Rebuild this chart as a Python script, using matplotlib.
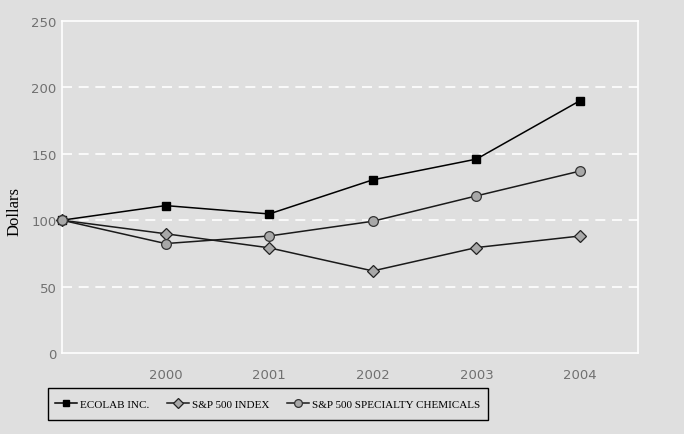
import matplotlib
matplotlib.use("Agg")
import matplotlib.pyplot as plt
from matplotlib.patches import Rectangle

years = [1999, 2000, 2001, 2002, 2003, 2004]
ecolab = [100, 111, 104.7, 130.4, 146, 190]
sp500 = [100, 89.8, 79.2, 61.8, 79.4, 88.1]
spec_chem = [100, 82.4, 88.1, 99.2, 118.3, 137]
xtick_labels = ["2000", "2001", "2002", "2003", "2004"]
yticks = [0, 50, 100, 150, 200, 250]

BG = "#dfdfdf"
fig = plt.figure(figsize=(6.84, 4.35), dpi=100, facecolor=BG)
ax = fig.add_axes([62/684, 81/435, 576/684, 332/435])
ax.set_facecolor(BG)

ax.plot(years, ecolab, color="black", lw=1.1, marker="s", ms=6,
        mfc="black", mec="black", clip_on=False, zorder=5, label="ECOLAB INC.")
ax.plot(years, sp500, color="#1a1a1a", lw=1.1, marker="D", ms=6,
        mfc="#a8a8a8", mec="#222222", mew=0.9, clip_on=False, zorder=5, label="S&P 500 INDEX")
ax.plot(years, spec_chem, color="#1a1a1a", lw=1.1, marker="o", ms=7,
        mfc="#a8a8a8", mec="#333333", mew=0.9, clip_on=False, zorder=5,
        label="S&P 500 SPECIALTY CHEMICALS")

ax.set_xlim(1999, 2004.56)
ax.set_ylim(0, 250)
ax.set_yticks(yticks)
ax.set_yticklabels([str(v) for v in yticks])
ax.set_xticks(years[1:])
ax.set_xticklabels(xtick_labels)

for v in [50, 100, 150, 200]:
    ax.axhline(v, color="white", lw=1.2, dashes=(6, 4), zorder=1)
for side in ["left", "right", "top", "bottom"]:
    ax.spines[side].set_color("white")
    ax.spines[side].set_linewidth(1.2)

ax.tick_params(axis="both", length=0, labelsize=9.5, labelcolor="#707070",
               labelfontfamily="DejaVu Sans")
ax.tick_params(axis="y", pad=4)
ax.tick_params(axis="x", pad=11)

ax.set_ylabel("Dollars", fontsize=12, family="Liberation Serif", color="black")
ax.yaxis.set_label_coords(-0.068, 0.428)

leg = fig.legend(loc="center left", bbox_to_anchor=(55/684, 30/435),
                 ncol=3, frameon=False,
                 prop={"family": "Liberation Serif", "size": 8.0},
                 handlelength=2.0, handletextpad=0.25, columnspacing=1.6,
                 borderaxespad=0, borderpad=0, markerscale=0.8)
fig.patches.append(Rectangle((48/684, 14/435), 440/684, 32/435,
                             transform=fig.transFigure, fill=False,
                             edgecolor="black", linewidth=1.0))

fig.savefig("out.png", dpi=100, facecolor=BG)
